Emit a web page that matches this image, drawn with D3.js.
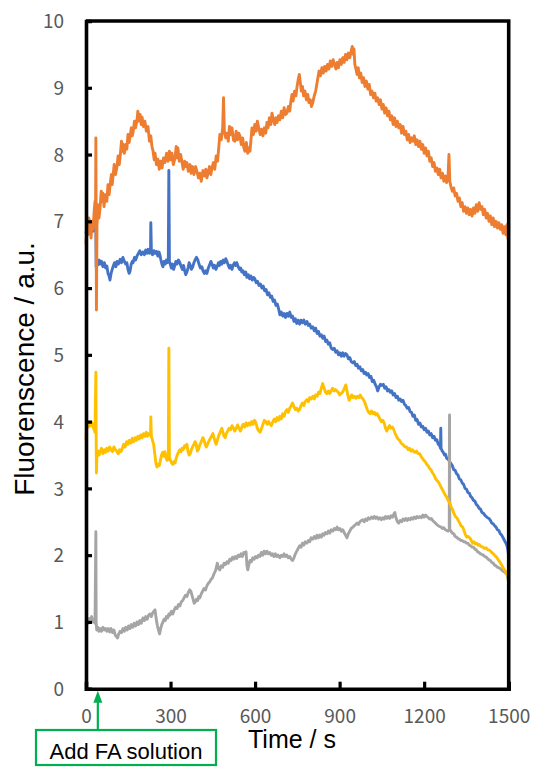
<!DOCTYPE html>
<html><head><meta charset="utf-8">
<script src="https://cdn.jsdelivr.net/npm/d3@7"></script>
<style>html,body{margin:0;padding:0;background:#fff;}svg{display:block;}</style>
</head><body>
<svg id="chart" width="540" height="767"></svg>
<script>
// ---- data (time in s, fluorescence in a.u.) ----
const xTicks = [0, 300, 600, 900, 1200, 1500];
const yTicks = [0, 1, 2, 3, 4, 5, 6, 7, 8, 9, 10];
const xTitle = "Time / s";
const yTitle = "Fluorenscence / a.u.";
const annotationText = "Add FA solution";
const annotationTime = 42;

const blue = [[0,6.82],[4,6.95],[8,6.85],[12,6.98],[16,6.88],[20,6.95],[24,6.85],[28,6.92],[32,6.88],[35,6.9],[36,6.32],[39,6.42],[43,6.35],[47,6.42],[50,6.36],[55,6.4],[60,6.32],[65,6.38],[70,6.3],[74,6.33],[78,6.22],[82,6.18],[85,6.12],[89,6.22],[93,6.28],[96,6.32],[101,6.38],[106,6.32],[110,6.4],[115,6.36],[121,6.43],[126,6.38],[131,6.46],[136,6.4],[141,6.36],[145,6.38],[149,6.28],[153,6.22],[156,6.25],[160,6.35],[164,6.4],[167,6.38],[172,6.46],[176,6.42],[181,6.48],[186,6.52],[191,6.56],[196,6.5],[202,6.54],[207,6.5],[212,6.57],[216,6.52],[220,6.58],[225,6.52],[229,6.55],[230,6.98],[232,6.55],[236,6.5],[241,6.56],[245,6.52],[250,6.55],[255,6.48],[259,6.54],[262,6.5],[266,6.42],[270,6.35],[273,6.32],[277,6.4],[281,6.36],[285,6.42],[288,6.38],[292,6.4],[294,7.76],[296,6.4],[299,6.36],[303,6.3],[307,6.36],[311,6.28],[315,6.34],[319,6.4],[323,6.36],[328,6.42],[333,6.38],[338,6.32],[342,6.28],[346,6.34],[350,6.26],[354,6.2],[358,6.24],[362,6.3],[366,6.38],[370,6.34],[374,6.28],[379,6.32],[383,6.38],[387,6.42],[392,6.46],[397,6.42],[401,6.36],[406,6.3],[411,6.32],[415,6.26],[420,6.22],[425,6.26],[429,6.22],[434,6.3],[438,6.34],[443,6.4],[447,6.36],[452,6.3],[456,6.34],[461,6.28],[465,6.32],[470,6.38],[474,6.34],[478,6.4],[482,6.36],[487,6.42],[491,6.38],[496,6.44],[500,6.4],[505,6.34],[509,6.3],[513,6.34],[518,6.28],[522,6.34],[527,6.38],[531,6.34],[535,6.38],[540,6.32],[545,6.28],[549,6.3],[553,6.24],[557,6.26],[562,6.2],[567,6.24],[571,6.16],[576,6.2],[580,6.14],[585,6.18],[590,6.12],[595,6.16],[599,6.14],[604,6.08],[609,6.1],[614,6.04],[619,6.06],[624,6.0],[629,6.03],[634,5.96],[639,5.98],[644,5.9],[649,5.93],[654,5.86],[659,5.88],[664,5.8],[669,5.82],[674,5.74],[679,5.76],[684,5.68],[688,5.6],[693,5.64],[698,5.58],[703,5.62],[708,5.56],[713,5.62],[718,5.58],[723,5.64],[728,5.56],[733,5.58],[738,5.5],[743,5.54],[748,5.47],[753,5.52],[758,5.46],[763,5.52],[768,5.48],[773,5.52],[778,5.46],[784,5.5],[789,5.44],[794,5.46],[799,5.4],[805,5.42],[810,5.36],[815,5.4],[820,5.32],[825,5.35],[830,5.28],[835,5.3],[840,5.25],[845,5.28],[850,5.2],[855,5.22],[860,5.16],[865,5.18],[870,5.1],[876,5.08],[881,5.1],[886,5.04],[891,5.06],[896,5.0],[901,5.03],[906,4.98],[911,5.03],[916,4.98],[921,5.02],[926,5.0],[931,4.94],[936,4.96],[941,4.9],[947,4.88],[952,4.9],[957,4.84],[962,4.86],[967,4.8],[972,4.82],[977,4.76],[982,4.78],[987,4.72],[992,4.74],[996,4.7],[1001,4.72],[1006,4.66],[1011,4.68],[1016,4.6],[1021,4.62],[1026,4.56],[1031,4.52],[1035,4.46],[1040,4.52],[1045,4.56],[1050,4.54],[1055,4.56],[1060,4.5],[1065,4.52],[1070,4.46],[1075,4.48],[1080,4.44],[1085,4.46],[1090,4.4],[1095,4.42],[1100,4.36],[1105,4.38],[1110,4.32],[1115,4.34],[1120,4.3],[1125,4.32],[1130,4.26],[1135,4.24],[1140,4.2],[1145,4.21],[1150,4.15],[1155,4.14],[1160,4.08],[1165,4.1],[1170,4.02],[1175,4.03],[1180,3.96],[1185,3.98],[1190,3.92],[1195,3.93],[1200,3.88],[1205,3.9],[1210,3.84],[1215,3.86],[1220,3.8],[1225,3.82],[1230,3.76],[1235,3.78],[1240,3.72],[1245,3.73],[1250,3.66],[1255,3.64],[1258,3.6],[1259,3.9],[1260,3.6],[1264,3.56],[1268,3.54],[1272,3.5],[1276,3.51],[1280,3.45],[1285,3.44],[1290,3.4],[1295,3.37],[1300,3.34],[1305,3.28],[1310,3.27],[1315,3.22],[1320,3.2],[1325,3.14],[1330,3.13],[1335,3.08],[1340,3.06],[1345,3.0],[1350,2.99],[1355,2.94],[1360,2.93],[1365,2.88],[1370,2.86],[1375,2.82],[1380,2.81],[1385,2.76],[1390,2.74],[1395,2.7],[1400,2.69],[1405,2.64],[1410,2.63],[1415,2.6],[1420,2.58],[1425,2.56],[1430,2.55],[1435,2.52],[1440,2.48],[1445,2.47],[1450,2.44],[1455,2.42],[1460,2.38],[1465,2.37],[1470,2.32],[1475,2.3],[1480,2.26],[1485,2.22],[1490,2.18],[1494,2.14],[1497,2.08],[1500,1.98]];

const orange = [[0,6.65],[4,6.95],[7,6.8],[10,7.05],[14,6.98],[18,6.75],[21,7.0],[25,6.88],[29,7.15],[32,7.3],[34,7.1],[35,8.25],[36,7.0],[37,5.67],[39,6.95],[43,7.25],[46,7.05],[50,7.2],[54,7.45],[57,7.3],[60,7.42],[64,7.22],[68,7.4],[74,7.3],[78,7.55],[82,7.4],[85,7.52],[90,7.7],[93,7.55],[96,7.68],[100,7.85],[105,7.7],[110,7.82],[114,7.98],[118,7.85],[121,7.96],[126,8.2],[129,8.05],[131,8.16],[136,8.02],[141,8.15],[145,8.08],[149,8.3],[153,8.18],[156,8.26],[161,8.4],[164,8.28],[167,8.33],[172,8.5],[176,8.4],[181,8.52],[184,8.65],[188,8.5],[192,8.6],[196,8.45],[199,8.56],[204,8.42],[209,8.5],[214,8.35],[220,8.42],[225,8.2],[230,8.28],[234,8.12],[238,8.05],[242,7.92],[245,8.02],[250,7.85],[255,7.93],[260,7.78],[265,7.9],[270,7.8],[275,7.95],[280,7.88],[286,8.02],[291,7.9],[296,8.05],[301,7.92],[305,8.02],[310,7.85],[316,7.95],[320,8.12],[323,7.95],[326,8.1],[331,7.9],[336,8.0],[340,7.9],[345,7.78],[350,7.9],[354,7.82],[358,7.88],[363,7.75],[369,7.85],[373,7.72],[378,7.82],[383,7.7],[389,7.82],[394,7.74],[399,7.65],[404,7.72],[409,7.6],[415,7.76],[420,7.68],[425,7.78],[429,7.65],[433,7.72],[438,7.82],[443,7.7],[447,7.8],[452,7.88],[457,7.78],[462,7.98],[467,7.9],[471,8.1],[475,8.3],[480,8.22],[485,8.4],[488,8.85],[491,8.35],[496,8.25],[500,8.32],[505,8.2],[509,8.42],[513,8.3],[518,8.4],[523,8.22],[528,8.2],[533,8.35],[538,8.22],[542,8.32],[546,8.28],[551,8.15],[556,8.25],[560,8.1],[564,8.05],[569,8.18],[574,8.02],[578,8.1],[582,8.05],[586,8.25],[589,8.4],[594,8.3],[599,8.45],[604,8.35],[608,8.5],[613,8.4],[618,8.3],[623,8.38],[628,8.28],[633,8.4],[638,8.32],[642,8.48],[646,8.4],[651,8.55],[656,8.45],[660,8.62],[665,8.52],[670,8.45],[674,8.55],[678,8.48],[683,8.58],[688,8.52],[693,8.65],[698,8.55],[703,8.7],[708,8.6],[713,8.62],[718,8.72],[723,8.65],[727,8.8],[731,8.9],[735,8.8],[740,8.95],[745,8.88],[749,9.02],[753,9.12],[757,9.2],[760,9.1],[764,8.95],[768,9.02],[772,8.88],[777,8.95],[782,8.82],[787,8.9],[791,8.78],[796,8.82],[800,8.72],[805,8.78],[810,8.88],[815,8.95],[819,9.05],[823,9.15],[827,9.25],[832,9.18],[837,9.3],[842,9.22],[847,9.32],[852,9.25],[857,9.35],[862,9.28],[867,9.4],[872,9.32],[877,9.42],[882,9.35],[887,9.28],[891,9.38],[896,9.3],[901,9.42],[906,9.35],[911,9.45],[916,9.38],[921,9.5],[926,9.42],[931,9.52],[936,9.45],[941,9.55],[945,9.62],[948,9.5],[951,9.58],[954,9.35],[958,9.28],[962,9.2],[966,9.3],[970,9.15],[975,9.22],[980,9.08],[985,9.15],[990,9.02],[995,9.1],[1000,8.98],[1005,9.05],[1010,8.9],[1015,8.95],[1020,8.85],[1025,8.92],[1030,8.8],[1035,8.85],[1040,8.75],[1045,8.82],[1050,8.68],[1055,8.75],[1060,8.62],[1065,8.7],[1070,8.58],[1075,8.65],[1080,8.52],[1085,8.58],[1090,8.45],[1095,8.55],[1100,8.42],[1105,8.5],[1110,8.4],[1115,8.45],[1120,8.32],[1125,8.42],[1130,8.3],[1135,8.35],[1140,8.22],[1145,8.3],[1150,8.18],[1155,8.25],[1160,8.2],[1165,8.28],[1170,8.15],[1175,8.22],[1180,8.12],[1185,8.2],[1190,8.08],[1195,8.15],[1200,8.02],[1205,8.1],[1210,7.98],[1215,8.05],[1220,7.9],[1225,7.95],[1230,7.82],[1235,7.88],[1240,7.75],[1245,7.8],[1250,7.7],[1255,7.78],[1260,7.65],[1265,7.72],[1270,7.6],[1275,7.68],[1280,7.58],[1285,7.7],[1288,8.0],[1291,7.6],[1295,7.52],[1300,7.45],[1305,7.5],[1310,7.38],[1315,7.42],[1320,7.3],[1325,7.35],[1330,7.22],[1335,7.28],[1340,7.15],[1345,7.22],[1350,7.12],[1355,7.2],[1360,7.1],[1365,7.18],[1370,7.08],[1375,7.2],[1380,7.12],[1385,7.25],[1390,7.15],[1395,7.28],[1400,7.18],[1405,7.22],[1410,7.1],[1415,7.18],[1420,7.05],[1425,7.12],[1430,7.0],[1435,7.08],[1440,6.95],[1445,7.05],[1450,6.92],[1455,7.0],[1460,6.9],[1465,6.98],[1470,6.88],[1475,6.95],[1480,6.82],[1485,6.92],[1490,6.8],[1494,6.95],[1497,6.75],[1500,6.7]];

const gray = [[0,0.98],[4,1.04],[8,0.98],[12,1.05],[16,1.02],[20,1.08],[24,1.0],[28,1.03],[32,0.98],[35,2.35],[36,1.0],[38,0.88],[42,0.92],[46,0.86],[50,0.9],[55,0.86],[60,0.92],[65,0.88],[70,0.9],[74,0.86],[79,0.9],[84,0.85],[89,0.9],[94,0.84],[99,0.88],[104,0.8],[108,0.78],[112,0.76],[116,0.82],[121,0.86],[126,0.84],[131,0.9],[136,0.86],[141,0.92],[146,0.88],[151,0.94],[156,0.9],[161,0.96],[166,0.92],[171,0.98],[176,0.94],[181,1.0],[186,0.96],[191,1.02],[196,0.98],[202,1.06],[207,1.02],[212,1.08],[217,1.04],[222,1.1],[227,1.12],[232,1.08],[237,1.14],[241,1.16],[245,1.18],[249,1.05],[253,0.95],[257,0.88],[261,0.82],[265,0.9],[269,0.96],[273,1.0],[277,1.04],[281,1.02],[285,1.08],[290,1.06],[294,1.12],[298,1.1],[303,1.16],[308,1.12],[313,1.18],[318,1.22],[323,1.2],[328,1.26],[333,1.24],[338,1.3],[343,1.32],[348,1.36],[353,1.4],[358,1.38],[363,1.44],[368,1.48],[372,1.46],[376,1.4],[380,1.34],[384,1.28],[388,1.3],[392,1.34],[396,1.32],[400,1.38],[404,1.36],[409,1.42],[414,1.46],[419,1.5],[424,1.48],[429,1.54],[434,1.58],[439,1.6],[444,1.64],[449,1.66],[454,1.72],[459,1.76],[463,1.82],[466,1.88],[470,1.8],[475,1.78],[480,1.84],[485,1.82],[490,1.88],[495,1.86],[500,1.9],[505,1.88],[510,1.94],[515,1.92],[520,1.97],[525,1.94],[530,1.98],[535,1.95],[540,2.0],[545,1.98],[550,2.02],[555,1.98],[560,2.04],[565,2.02],[568,2.05],[571,1.85],[574,1.78],[578,1.86],[582,1.92],[587,1.9],[592,1.96],[597,1.94],[602,1.98],[607,1.96],[612,2.0],[617,1.98],[622,2.04],[627,2.0],[632,2.06],[637,2.02],[642,2.06],[647,2.02],[652,2.04],[657,2.0],[662,2.02],[667,1.98],[672,2.02],[677,1.98],[682,2.0],[688,1.96],[693,2.0],[698,1.98],[703,2.02],[708,1.98],[713,2.0],[718,1.96],[723,1.98],[728,1.94],[733,1.92],[738,1.96],[743,2.02],[748,2.06],[753,2.1],[758,2.14],[763,2.12],[768,2.18],[773,2.15],[778,2.2],[784,2.18],[789,2.22],[794,2.2],[799,2.26],[805,2.24],[810,2.28],[815,2.25],[820,2.3],[825,2.26],[830,2.3],[835,2.27],[840,2.32],[845,2.3],[850,2.34],[855,2.32],[860,2.36],[865,2.33],[870,2.38],[876,2.36],[881,2.4],[886,2.38],[891,2.42],[896,2.38],[901,2.4],[906,2.36],[911,2.38],[916,2.34],[921,2.3],[926,2.26],[931,2.32],[936,2.36],[941,2.4],[947,2.42],[952,2.44],[957,2.46],[962,2.48],[967,2.46],[972,2.5],[977,2.52],[982,2.53],[987,2.5],[992,2.54],[997,2.52],[1002,2.56],[1007,2.54],[1013,2.57],[1018,2.55],[1023,2.58],[1028,2.55],[1033,2.57],[1038,2.54],[1043,2.56],[1048,2.53],[1053,2.56],[1058,2.54],[1063,2.58],[1068,2.55],[1073,2.58],[1078,2.55],[1083,2.59],[1088,2.57],[1093,2.62],[1096,2.64],[1100,2.56],[1105,2.5],[1110,2.48],[1115,2.52],[1120,2.5],[1125,2.54],[1130,2.52],[1135,2.55],[1140,2.52],[1145,2.55],[1150,2.53],[1155,2.56],[1160,2.54],[1165,2.57],[1170,2.55],[1175,2.58],[1180,2.56],[1185,2.58],[1190,2.56],[1195,2.6],[1200,2.57],[1205,2.6],[1210,2.58],[1215,2.56],[1220,2.54],[1225,2.55],[1230,2.52],[1235,2.5],[1240,2.48],[1245,2.46],[1250,2.44],[1255,2.43],[1260,2.42],[1265,2.4],[1270,2.41],[1275,2.38],[1280,2.37],[1285,2.36],[1289,2.38],[1290,4.1],[1291,2.38],[1295,2.36],[1300,2.33],[1305,2.32],[1310,2.28],[1315,2.27],[1320,2.25],[1325,2.24],[1330,2.22],[1335,2.22],[1340,2.2],[1345,2.2],[1350,2.18],[1355,2.18],[1360,2.15],[1365,2.14],[1370,2.12],[1375,2.12],[1380,2.09],[1385,2.08],[1390,2.05],[1395,2.04],[1400,2.02],[1405,2.01],[1410,2.0],[1415,1.98],[1420,1.97],[1425,1.95],[1430,1.93],[1435,1.92],[1440,1.89],[1445,1.88],[1450,1.85],[1455,1.84],[1460,1.82],[1465,1.81],[1470,1.8],[1475,1.78],[1480,1.76],[1485,1.75],[1490,1.73],[1495,1.7],[1500,1.6]];

const yellow = [[0,3.72],[2,3.9],[5,3.98],[9,3.92],[13,4.0],[17,3.94],[21,3.99],[25,3.92],[29,3.88],[32,3.84],[35,4.74],[36,3.8],[37,3.23],[39,3.52],[43,3.56],[47,3.5],[50,3.55],[55,3.6],[60,3.52],[65,3.58],[70,3.54],[74,3.6],[79,3.56],[84,3.62],[89,3.58],[94,3.55],[99,3.62],[104,3.58],[109,3.56],[114,3.52],[119,3.58],[124,3.55],[129,3.6],[134,3.66],[139,3.62],[144,3.7],[149,3.66],[154,3.72],[159,3.68],[164,3.75],[169,3.7],[174,3.76],[179,3.72],[184,3.78],[189,3.74],[194,3.8],[199,3.76],[204,3.82],[209,3.78],[214,3.84],[218,3.78],[222,3.82],[226,3.8],[229,3.84],[230,4.07],[232,3.78],[236,3.72],[240,3.66],[244,3.52],[248,3.38],[252,3.32],[256,3.36],[260,3.34],[264,3.42],[268,3.5],[272,3.54],[276,3.48],[280,3.55],[284,3.46],[288,3.42],[292,3.44],[294,5.1],[296,3.45],[300,3.42],[304,3.38],[308,3.36],[312,3.4],[316,3.38],[320,3.45],[324,3.5],[328,3.54],[333,3.58],[337,3.55],[341,3.6],[345,3.58],[350,3.64],[354,3.62],[358,3.66],[362,3.55],[366,3.5],[370,3.52],[374,3.58],[378,3.62],[383,3.66],[387,3.7],[391,3.66],[395,3.56],[399,3.58],[403,3.64],[407,3.68],[411,3.72],[415,3.76],[419,3.72],[423,3.66],[427,3.62],[431,3.66],[435,3.7],[440,3.74],[445,3.78],[450,3.82],[454,3.76],[458,3.7],[462,3.66],[466,3.72],[470,3.78],[474,3.82],[478,3.86],[482,3.9],[486,3.84],[490,3.78],[494,3.76],[498,3.82],[503,3.86],[508,3.9],[513,3.88],[518,3.94],[523,3.9],[528,3.86],[533,3.9],[538,3.95],[543,3.9],[548,3.86],[553,3.92],[558,3.96],[563,3.92],[568,3.98],[573,3.94],[578,3.98],[583,3.95],[588,4.0],[593,3.96],[598,4.02],[603,3.98],[608,3.9],[613,3.86],[618,3.84],[623,3.9],[628,3.96],[633,4.02],[638,4.0],[643,3.96],[648,4.0],[653,3.96],[658,3.94],[663,4.0],[668,4.04],[673,4.0],[678,4.06],[683,4.02],[688,4.08],[693,4.04],[698,4.12],[703,4.08],[708,4.15],[713,4.18],[718,4.14],[723,4.2],[728,4.24],[733,4.28],[738,4.22],[743,4.18],[748,4.2],[753,4.16],[758,4.18],[763,4.24],[768,4.28],[773,4.24],[778,4.3],[784,4.33],[789,4.3],[794,4.36],[799,4.34],[805,4.38],[810,4.34],[815,4.4],[820,4.38],[825,4.44],[830,4.42],[835,4.5],[840,4.57],[845,4.5],[850,4.44],[855,4.42],[860,4.46],[865,4.42],[870,4.46],[875,4.5],[880,4.46],[885,4.48],[890,4.46],[895,4.44],[900,4.4],[905,4.42],[910,4.44],[915,4.48],[919,4.52],[922,4.55],[926,4.46],[930,4.38],[934,4.32],[938,4.35],[943,4.4],[948,4.36],[953,4.38],[958,4.35],[963,4.38],[968,4.36],[973,4.4],[978,4.36],[983,4.34],[988,4.3],[993,4.24],[998,4.18],[1003,4.14],[1008,4.12],[1013,4.16],[1018,4.12],[1023,4.14],[1028,4.1],[1033,4.12],[1038,4.08],[1043,4.04],[1048,4.0],[1053,4.02],[1058,3.98],[1063,3.9],[1067,3.86],[1072,3.9],[1077,3.94],[1082,3.9],[1087,3.92],[1092,3.88],[1097,3.82],[1102,3.78],[1107,3.74],[1113,3.72],[1118,3.68],[1123,3.66],[1128,3.64],[1133,3.62],[1138,3.62],[1143,3.58],[1148,3.6],[1153,3.56],[1158,3.58],[1163,3.55],[1168,3.54],[1173,3.56],[1178,3.52],[1184,3.52],[1189,3.48],[1194,3.45],[1199,3.42],[1204,3.4],[1209,3.36],[1214,3.34],[1219,3.3],[1224,3.28],[1230,3.23],[1235,3.2],[1240,3.15],[1245,3.12],[1250,3.1],[1255,3.06],[1260,3.02],[1265,2.98],[1270,2.94],[1275,2.9],[1280,2.87],[1285,2.82],[1291,2.78],[1296,2.72],[1301,2.68],[1306,2.62],[1311,2.58],[1316,2.56],[1321,2.52],[1326,2.48],[1331,2.44],[1337,2.42],[1342,2.36],[1347,2.3],[1351,2.27],[1356,2.28],[1362,2.26],[1367,2.22],[1372,2.18],[1377,2.2],[1382,2.17],[1386,2.18],[1391,2.15],[1396,2.16],[1401,2.13],[1408,2.12],[1414,2.1],[1420,2.11],[1426,2.08],[1433,2.07],[1440,2.04],[1446,2.02],[1452,1.99],[1457,1.97],[1463,1.93],[1468,1.9],[1474,1.86],[1479,1.82],[1485,1.78],[1490,1.75],[1496,1.7],[1500,1.65]];

const seriesList = [
  {name: "blue", color: "#4472C4", data: blue},
  {name: "orange", color: "#ED7D31", data: orange},
  {name: "gray", color: "#A5A5A5", data: gray},
  {name: "yellow", color: "#FFC000", data: yellow}
];

// ---- layout ----
const svg = d3.select("#chart");
const plotLeft = 86, plotRight = 508.7, plotTop = 21, plotBottom = 688.7;
const x = d3.scaleLinear().domain([0, 1500]).range([plotLeft, plotRight]);
const y = d3.scaleLinear().domain([0, 10]).range([plotBottom, plotTop]);

svg.append("rect").attr("width", 540).attr("height", 767).attr("fill", "#fff");

const line = d3.line().x(d => x(d[0])).y(d => y(d[1]));
const g = svg.append("g");
seriesList.forEach(s => {
  g.append("path").datum(s.data)
    .attr("d", line)
    .attr("fill", "none")
    .attr("stroke", s.color)
    .attr("stroke-width", 2.9)
    .attr("stroke-linejoin", "round");
});

// frame (top & right)
svg.append("path")
  .attr("d", `M${plotLeft},${plotTop}H${plotRight}V${plotBottom}`)
  .attr("fill", "none").attr("stroke", "#000").attr("stroke-width", 3.6);

// axes
const tickFont = "'Noto Sans CJK JP','Noto Sans',sans-serif";
const yAxis = d3.axisLeft(y).tickValues(yTicks).tickSize(-6).tickPadding(22).tickFormat(d3.format("d"));
const yg = svg.append("g").attr("transform", `translate(${plotLeft},0)`).call(yAxis);
const xAxis = d3.axisBottom(x).tickValues(xTicks).tickSize(-7).tickPadding(21).tickFormat(d3.format("d"));
const xg = svg.append("g").attr("transform", `translate(0,${plotBottom})`).call(xAxis);
[yg, xg].forEach(a => {
  a.select(".domain").attr("stroke", "#000").attr("stroke-width", 3.6);
  a.selectAll(".tick line").attr("stroke", "#000").attr("stroke-width", 3.2);
  a.selectAll(".tick text").attr("fill", "#595959").style("font-family", tickFont).style("font-size", "19px");
});
yg.selectAll(".tick text").attr("dy", "0.35em");
yg.selectAll(".tick").filter(d => d === 0 || d === 10).select("line").remove();
xg.selectAll(".tick").filter(d => d === 0 || d === 1500).select("line").remove();

// titles
const titleFont = "'Liberation Sans', Arial, sans-serif";
svg.append("text")
  .attr("transform", `translate(34,369) rotate(-90)`)
  .attr("text-anchor", "middle")
  .style("font-family", titleFont).style("font-size", "28px").attr("fill", "#000")
  .text(yTitle);
svg.append("text")
  .attr("x", 292).attr("y", 748)
  .attr("text-anchor", "middle")
  .style("font-family", titleFont).style("font-size", "25px").attr("fill", "#000")
  .text(xTitle);

// annotation
const green = "#00B050";
const ax = x(annotationTime);
svg.append("rect").attr("x", 36).attr("y", 730).attr("width", 180).attr("height", 35)
  .attr("fill", "#fff").attr("stroke", green).attr("stroke-width", 2.2);
svg.append("line").attr("x1", ax).attr("x2", ax).attr("y1", 730).attr("y2", 700)
  .attr("stroke", green).attr("stroke-width", 2.2);
svg.append("path").attr("d", `M${ax},${plotBottom + 2}L${ax - 4.5},${plotBottom + 14}L${ax + 4.5},${plotBottom + 14}Z`)
  .attr("fill", green);
svg.append("text").attr("x", 126).attr("y", 759).attr("text-anchor", "middle")
  .style("font-family", titleFont).style("font-size", "22px").attr("fill", "#000")
  .text(annotationText);
</script>
</body></html>
